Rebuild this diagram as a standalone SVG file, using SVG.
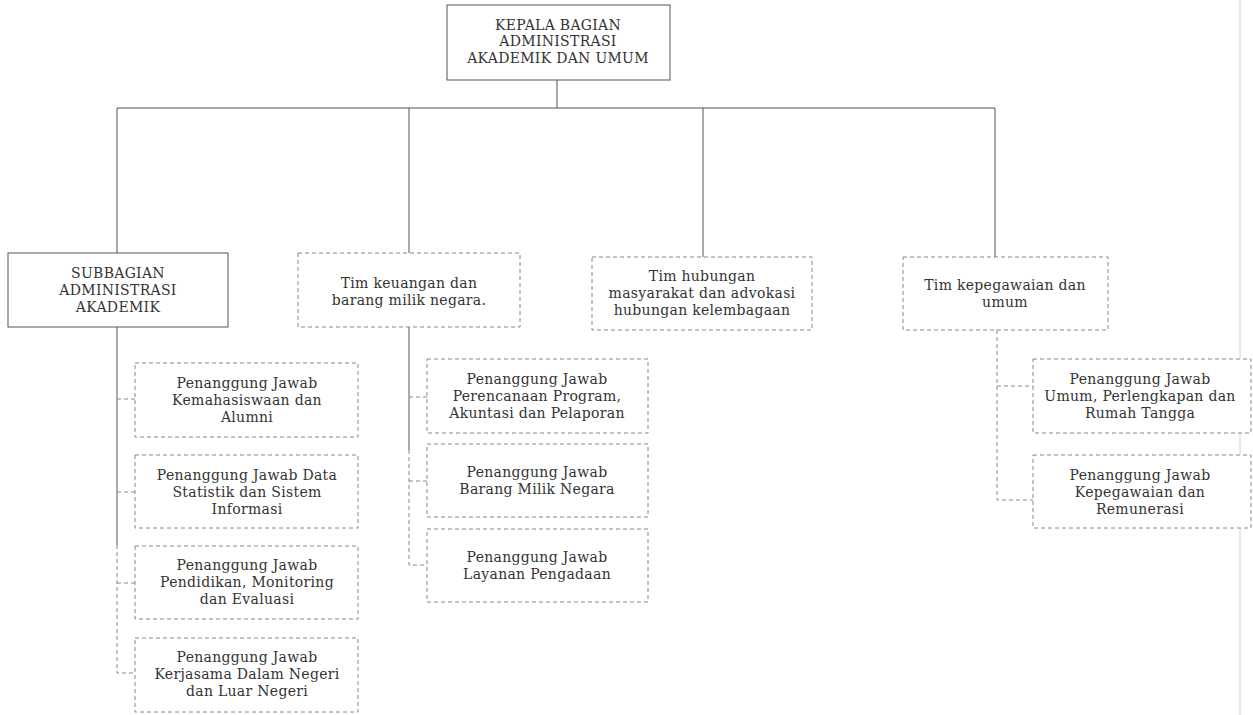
<svg xmlns="http://www.w3.org/2000/svg" width="1253" height="715" viewBox="0 0 1253 715">
<style>
.bg{fill:#ffffff}
.solid{fill:#fff;stroke:#555;stroke-width:1}
.dash{fill:#fff;stroke:#888;stroke-width:1;stroke-dasharray:4 3}
.ln{fill:none;stroke:#555;stroke-width:1}
.dln{fill:none;stroke:#888;stroke-width:1;stroke-dasharray:4 3}
text{font-family:"DejaVu Serif","Liberation Serif",serif;font-size:14px;letter-spacing:0.3px;fill:#333;text-anchor:middle}
.cap{font-size:14px;letter-spacing:0.3px}
</style>
<rect class="bg" x="0" y="0" width="1253" height="715"/>
<line x1="1240" y1="0" x2="1240" y2="715" stroke="#d0d0d0" stroke-width="1"/>
<g id="connectors">
<path class="ln" d="M557 80V108M117 108H995M117 108V253M409 108V253M703 108V257M995 108V257"/>
<path class="ln" d="M117 327V545"/>
<path class="dln" d="M117 545V673H135M117 399H135M117 492H135M117 583H135"/>
<path class="ln" d="M409 327V450"/>
<path class="dln" d="M409 450V565H427M409 397H427M409 481H427"/>
<path class="dln" d="M997 330V500H1033M997 386H1033"/>
</g>
<g id="kepala">
<rect class="solid" x="447" y="5" width="223" height="75"/>
<text class="cap" x="558" y="30">KEPALA BAGIAN</text>
<text class="cap" x="558" y="46">ADMINISTRASI</text>
<text class="cap" x="558" y="63">AKADEMIK DAN UMUM</text>
</g>
<g id="subbagian">
<rect class="solid" x="8" y="253" width="220" height="74"/>
<text class="cap" x="118" y="278">SUBBAGIAN</text>
<text class="cap" x="118" y="295">ADMINISTRASI</text>
<text class="cap" x="118" y="312">AKADEMIK</text>
</g>
<g id="tim-keuangan">
<rect class="dash" x="298" y="253" width="222" height="74"/>
<text x="409" y="288">Tim keuangan dan</text>
<text x="409" y="305">barang milik negara.</text>
</g>
<g id="tim-hubungan">
<rect class="dash" x="592" y="257" width="220" height="73"/>
<text x="702" y="281">Tim hubungan</text>
<text x="702" y="298">masyarakat dan advokasi</text>
<text x="702" y="315">hubungan kelembagaan</text>
</g>
<g id="tim-kepegawaian">
<rect class="dash" x="903" y="257" width="205" height="73"/>
<text x="1005" y="290">Tim kepegawaian dan</text>
<text x="1005" y="307">umum</text>
</g>
<g id="pj-kemahasiswaan">
<rect class="dash" x="135" y="363" width="223" height="74"/>
<text x="247" y="388">Penanggung Jawab</text>
<text x="247" y="405">Kemahasiswaan dan</text>
<text x="247" y="422">Alumni</text>
</g>
<g id="pj-data">
<rect class="dash" x="135" y="455" width="223" height="73"/>
<text x="247" y="480">Penanggung Jawab  Data</text>
<text x="247" y="497">Statistik dan Sistem</text>
<text x="247" y="514">Informasi</text>
</g>
<g id="pj-pendidikan">
<rect class="dash" x="135" y="546" width="223" height="73"/>
<text x="247" y="570">Penanggung Jawab</text>
<text x="247" y="587">Pendidikan, Monitoring</text>
<text x="247" y="604">dan Evaluasi</text>
</g>
<g id="pj-kerjasama">
<rect class="dash" x="135" y="638" width="223" height="74"/>
<text x="247" y="662">Penanggung Jawab</text>
<text x="247" y="679">Kerjasama Dalam Negeri</text>
<text x="247" y="696">dan Luar Negeri</text>
</g>
<g id="pj-perencanaan">
<rect class="dash" x="427" y="359" width="221" height="74"/>
<text x="537" y="384">Penanggung Jawab</text>
<text x="537" y="401">Perencanaan Program,</text>
<text x="537" y="418">Akuntasi dan Pelaporan</text>
</g>
<g id="pj-bmn">
<rect class="dash" x="427" y="444" width="221" height="73"/>
<text x="537" y="477">Penanggung Jawab</text>
<text x="537" y="494">Barang Milik Negara</text>
</g>
<g id="pj-pengadaan">
<rect class="dash" x="427" y="529" width="221" height="73"/>
<text x="537" y="562">Penanggung Jawab</text>
<text x="537" y="579">Layanan Pengadaan</text>
</g>
<g id="pj-umum">
<rect class="dash" x="1033" y="359" width="218" height="74"/>
<text x="1140" y="384">Penanggung Jawab</text>
<text x="1140" y="401">Umum, Perlengkapan dan</text>
<text x="1140" y="418">Rumah Tangga</text>
</g>
<g id="pj-kepegawaian">
<rect class="dash" x="1033" y="455" width="218" height="73"/>
<text x="1140" y="480">Penanggung Jawab</text>
<text x="1140" y="497">Kepegawaian dan</text>
<text x="1140" y="514">Remunerasi</text>
</g>
</svg>
